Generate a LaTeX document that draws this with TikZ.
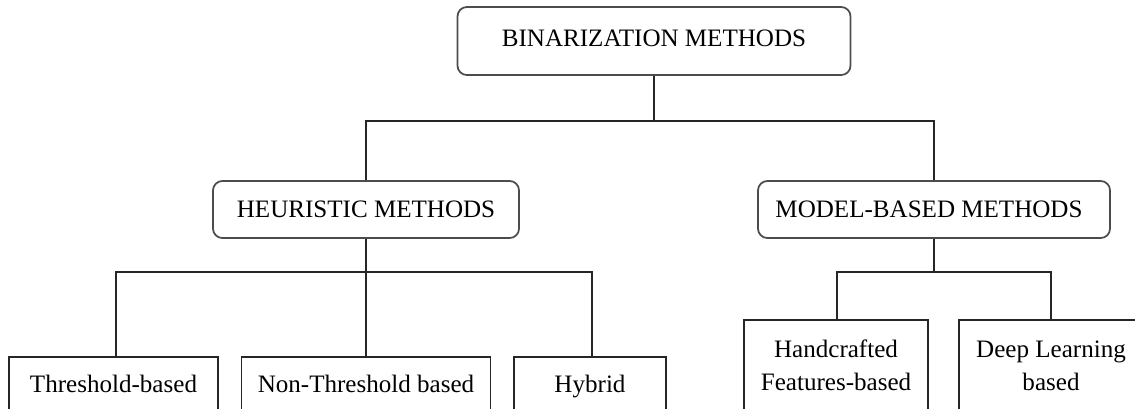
\documentclass[tikz,border=0pt]{standalone}
\usepackage{fontspec}
\setmainfont{Liberation Serif}
\begin{document}
\begin{tikzpicture}[x=0.75pt,y=-0.75pt,
  rbox/.style={draw=black!70, line width=1.3pt, rounded corners=7pt, inner sep=0pt},
  sbox/.style={draw=black!85, line width=1.1pt, inner sep=0pt},
  lbl/.style={font=\fontsize{18.8}{23}\selectfont, text=black, inner sep=0pt, anchor=base},
  wire/.style={draw=black!85, line width=1.1pt}]
\useasboundingbox (0,0) rectangle (1135,408);
\clip (0,0) rectangle (1135,408);

% root
\node[rbox, minimum width=393*0.75pt, minimum height=68*0.75pt] (root) at (654,41) {};
\node[lbl] (rootT) at (654,46.5) {BINARIZATION METHODS};

% second level
\node[rbox, minimum width=306*0.75pt, minimum height=57*0.75pt] (heur) at (366,209.5) {};
\node[lbl] (heurT) at (366,217) {HEURISTIC METHODS};
\node[rbox, minimum width=352*0.75pt, minimum height=57*0.75pt] (model) at (934,209.5) {};
\node[lbl] (modelT) at (929,217) {MODEL-BASED METHODS};

% heuristic leaves
\node[sbox, minimum width=209*0.75pt, minimum height=83*0.75pt] (thr) at (113.5,398.5) {};
\node[lbl] (thrT) at (113.5,392) {Threshold-based};
\node[sbox, minimum width=249*0.75pt, minimum height=83*0.75pt] (nthr) at (366,398.5) {};
\node[lbl] (nthrT) at (366,392) {Non-Threshold based};
\node[sbox, minimum width=152*0.75pt, minimum height=83*0.75pt] (hyb) at (590,398.5) {};
\node[lbl] (hybT) at (590,392) {Hybrid};

% model-based leaves
\node[sbox, minimum width=184*0.75pt, minimum height=120*0.75pt] (hand) at (836,380) {};
\node[lbl] (handT1) at (836,357) {Handcrafted};
\node[lbl] (handT2) at (836,390) {Features-based};
\node[sbox, minimum width=184*0.75pt, minimum height=120*0.75pt] (deep) at (1051,380) {};
\node[lbl] (deepT1) at (1051,357) {Deep Learning};
\node[lbl] (deepT2) at (1051,390) {based};

% connectors
\draw[wire] (root.south) -- ++(0,45) -| (heur.north);
\draw[wire] (root.south) -- ++(0,45) -| (model.north);
\draw[wire] (heur.south) -- ++(0,33) -| ([xshift=2.5*0.75pt]thr.north);
\draw[wire] (heur.south) -- ++(0,33) -| (nthr.north);
\draw[wire] (heur.south) -- ++(0,33) -| ([xshift=2*0.75pt]hyb.north);
\draw[wire] (model.south) -- ++(0,33) -| ([xshift=1*0.75pt]hand.north);
\draw[wire] (model.south) -- ++(0,33) -| (deep.north);
\end{tikzpicture}
\end{document}
